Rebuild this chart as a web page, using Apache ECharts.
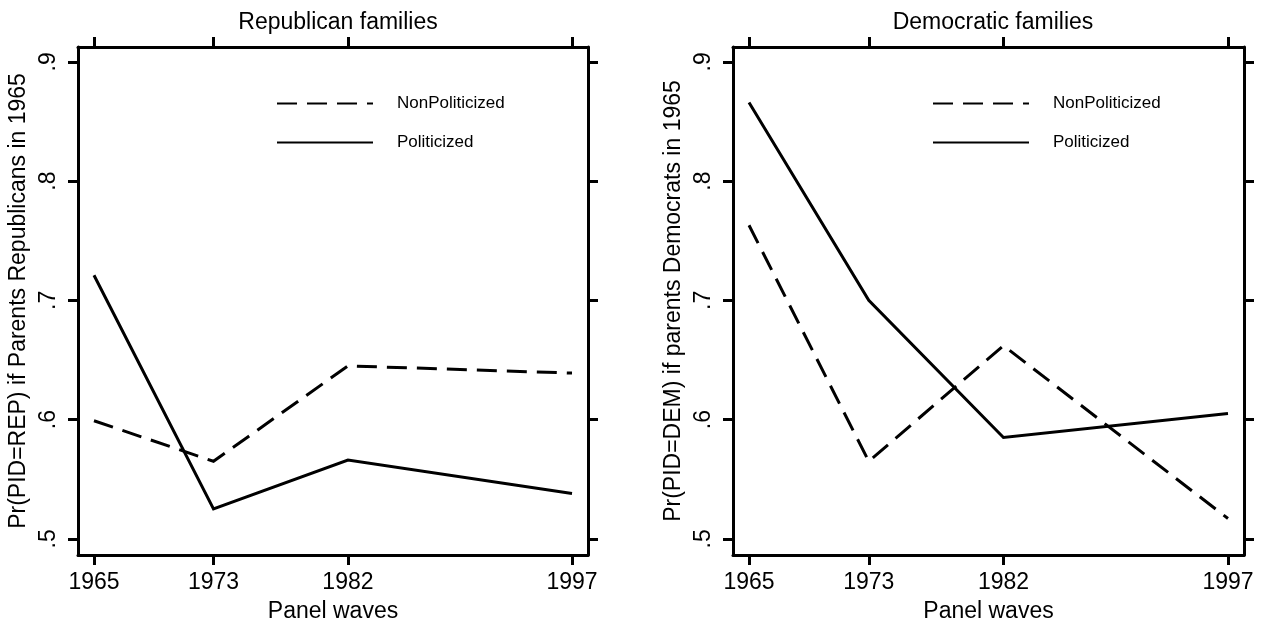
<!DOCTYPE html>
<html>
<head>
<meta charset="utf-8">
<script src="https://cdn.jsdelivr.net/npm/echarts@6/dist/echarts.min.js"></script>
<style>
  html, body { margin: 0; padding: 0; background: #fff; }
  #chart { width: 1262px; height: 628px; }
</style>
</head>
<body>
<div id="chart"></div>
<script>
const years = [1965, 1973, 1982, 1997];
const yTicks = [0.5, 0.6, 0.7, 0.8, 0.9];
const yTickLabels = ['.5', '.6', '.7', '.8', '.9'];
const seriesNames = ['NonPoliticized', 'Politicized'];

const repNonPol = [0.599, 0.565, 0.645, 0.639];
const repPol = [0.721, 0.525, 0.566, 0.538];
const demNonPol = [0.763, 0.565, 0.662, 0.517];
const demPol = [0.866, 0.700, 0.585, 0.605];

const panelTitles = ['Republican families', 'Democratic families'];
const yTitles = ['Pr(PID=REP) if Parents Republicans in 1965', 'Pr(PID=DEM) if parents Democrats in 1965'];
const xTitle = 'Panel waves';

const FONT = '"Liberation Sans", Arial, Helvetica, sans-serif';
const X_MIN = 1963.93, X_MAX = 1998.07;
const Y_MIN = 0.4864, Y_MAX = 0.9125;

const grids = [
  { left: 78, top: 47, width: 510, height: 511 },
  { left: 733, top: 47, width: 511, height: 511 }
];

function pair(a, b) { return a.map((v, i) => [v, b[i]]); }

const tickStyle = { show: true, length: 10, inside: false, lineStyle: { color: '#000', width: 3 } };
const lineStyleAxis = { show: true, onZero: false, lineStyle: { color: '#000', width: 3 } };

const xAxes = [], yAxes = [];
grids.forEach((g, gi) => {
  xAxes.push({
    type: 'value', gridIndex: gi, position: 'bottom', min: X_MIN, max: X_MAX,
    name: xTitle, nameLocation: 'middle', nameGap: 45,
    nameTextStyle: { fontFamily: FONT, fontSize: 23, color: '#000' },
    axisLine: lineStyleAxis,
    axisTick: Object.assign({ customValues: years }, tickStyle),
    axisLabel: { customValues: years, margin: 16, fontFamily: FONT, fontSize: 23, color: '#000', formatter: v => String(v) },
    splitLine: { show: false }
  });
  xAxes.push({
    type: 'value', gridIndex: gi, position: 'top', min: X_MIN, max: X_MAX,
    axisLine: lineStyleAxis,
    axisTick: Object.assign({ customValues: years }, tickStyle),
    axisLabel: { show: false },
    splitLine: { show: false }
  });
  yAxes.push({
    type: 'value', gridIndex: gi, position: 'left', min: Y_MIN, max: Y_MAX,
    name: yTitles[gi], nameLocation: 'middle', nameRotate: 90, nameGap: 48,
    nameTextStyle: { fontFamily: FONT, fontSize: 23, color: '#000' },
    axisLine: lineStyleAxis,
    axisTick: Object.assign({ customValues: yTicks }, tickStyle),
    axisLabel: {
      customValues: yTicks, rotate: 90, margin: 18, fontFamily: FONT, fontSize: 23, color: '#000',
      formatter: v => { const i = yTicks.findIndex(t => Math.abs(t - v) < 1e-6); return i >= 0 ? yTickLabels[i] : ''; }
    },
    splitLine: { show: false }
  });
  yAxes.push({
    type: 'value', gridIndex: gi, position: 'right', min: Y_MIN, max: Y_MAX,
    axisLine: lineStyleAxis,
    axisTick: Object.assign({ customValues: yTicks }, tickStyle),
    axisLabel: { show: false },
    splitLine: { show: false }
  });
});

function mkSeries(name, data, gi, dashed) {
  return {
    type: 'line', name: name, xAxisIndex: gi * 2, yAxisIndex: gi * 2,
    data: pair(years, data), symbol: 'none', silent: true,
    lineStyle: { color: '#000', width: 3, type: dashed ? [20, 10] : 'solid', cap: 'butt', join: 'miter' },
    itemStyle: { color: '#000' }
  };
}

const legendCommon = {
  orient: 'vertical', itemWidth: 96, itemHeight: 14, itemGap: 22,
  itemStyle: { opacity: 0 },
  textStyle: { fontFamily: FONT, fontSize: 17, color: '#000', padding: [0, 0, 0, 19] },
  data: seriesNames, selectedMode: false
};

const option = {
  animation: false,
  backgroundColor: '#fff',
  title: panelTitles.map((t, i) => ({
    text: t, left: i === 0 ? 333 : 988, top: 6, textAlign: 'center',
    textStyle: { fontFamily: FONT, fontSize: 23, fontWeight: 'normal', color: '#000' }
  })),
  legend: [
    Object.assign({ left: 271, top: 90 }, legendCommon),
    Object.assign({ left: 927, top: 90 }, legendCommon)
  ],
  grid: grids,
  xAxis: xAxes,
  yAxis: yAxes,
  series: [
    mkSeries(seriesNames[0], repNonPol, 0, true),
    mkSeries(seriesNames[1], repPol, 0, false),
    mkSeries(seriesNames[0], demNonPol, 1, true),
    mkSeries(seriesNames[1], demPol, 1, false)
  ]
};

const chart = echarts.init(document.getElementById('chart'), null, { renderer: 'canvas' });
chart.setOption(option);
</script>
</body>
</html>
